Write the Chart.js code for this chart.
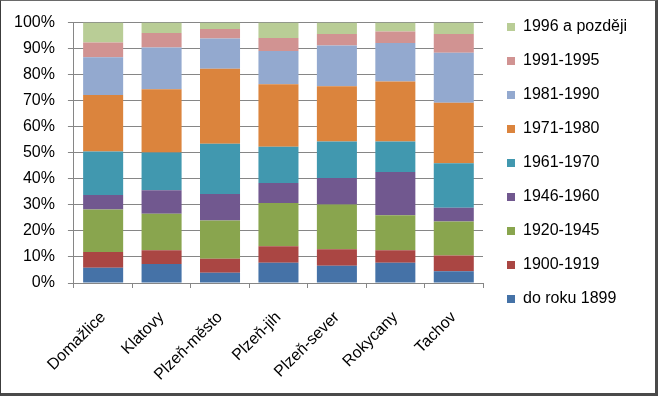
<!DOCTYPE html>
<html>
<head>
<meta charset="utf-8">
<script src="https://cdn.jsdelivr.net/npm/chart.js@4/dist/chart.umd.min.js"></script>
<style>
  html, body { margin: 0; padding: 0; background: #ffffff; }
  #wrap { position: absolute; left: 0; top: 0; width: 658px; height: 396px; }
  #frame { position: absolute; left: 0; top: 0; width: 658px; height: 396px; box-sizing: border-box;
           border-left: 1px solid #3c3c3c; border-top: 1px solid #6a6a6a;
           border-right: 3px solid #4a4a4a; border-bottom: 3px solid #4a4a4a; pointer-events: none; }
</style>
</head>
<body>
<div id="wrap"><canvas id="c" width="658" height="396"></canvas></div>
<div id="frame"></div>
<script>
const categories = ['Domažlice', 'Klatovy', 'Plzeň-město', 'Plzeň-jih', 'Plzeň-sever', 'Rokycany', 'Tachov'];
const seriesNames = ['do roku 1899', '1900-1919', '1920-1945', '1946-1960', '1961-1970', '1971-1980', '1981-1990', '1991-1995', '1996 a později'];
const doRoku1899 = [5.9, 7.3, 3.9, 7.8, 6.6, 7.8, 4.5];
const y1900_1919 = [6.0, 5.3, 5.4, 6.3, 6.4, 4.8, 6.1];
const y1920_1945 = [16.3, 14.0, 14.7, 16.6, 17.1, 13.4, 13.0];
const y1946_1960 = [5.6, 9.0, 10.2, 7.7, 10.2, 16.6, 5.3];
const y1961_1970 = [16.7, 14.5, 19.3, 13.9, 14.0, 11.7, 17.1];
const y1971_1980 = [21.7, 24.3, 28.8, 24.0, 21.3, 23.1, 23.2];
const y1981_1990 = [14.5, 16.0, 11.6, 12.8, 15.6, 14.8, 19.2];
const y1991_1995 = [5.7, 5.6, 3.6, 5.0, 4.4, 4.4, 7.2];
const y1996later = [7.6, 4.0, 2.5, 5.9, 4.4, 3.4, 4.4];
const yTicks = [0, 10, 20, 30, 40, 50, 60, 70, 80, 90, 100];

const seriesValues = [doRoku1899, y1900_1919, y1920_1945, y1946_1960, y1961_1970, y1971_1980, y1981_1990, y1991_1995, y1996later];
const colors = ['#4572A7', '#AA4643', '#89A54E', '#71588F', '#4198AF', '#DB843D', '#93A9CF', '#D19392', '#B9CD96'];

const FONT = "'Liberation Sans', Arial, sans-serif";

const legendPlace = {
  id: 'legendPlace',
  beforeUpdate(chart) {
    const lg = chart.legend;
    if (lg && !lg._patched) {
      const f = lg.fit;
      lg.fit = function () { f.call(this); this.width = 175; };
      lg._patched = true;
    }
  },
  afterLayout(chart) {
    const lg = chart.legend;
    lg.left = 489; lg.right = 658; lg.top = 1; lg.bottom = 396;
  }
};

new Chart(document.getElementById('c'), {
  type: 'bar',
  data: {
    labels: categories,
    datasets: seriesNames.map((n, i) => ({
      label: n,
      data: seriesValues[i],
      backgroundColor: colors[i],
      borderWidth: 0,
      categoryPercentage: 0.685,
      barPercentage: 1.0
    }))
  },
  options: {
    responsive: false,
    animation: false,
    layout: { padding: { left: 1, top: 19, right: 0, bottom: 0 } },
    plugins: {
      tooltip: { enabled: false },
      legend: {
        position: 'right',
        align: 'start',
        reverse: true,
        labels: {
          boxWidth: 8, boxHeight: 8, padding: 18,
          color: '#000000',
          font: { family: FONT, size: 16 }
        }
      }
    },
    scales: {
      x: {
        stacked: true,
        afterFit(scale) { scale.paddingLeft = 0; scale.paddingRight = 0; scale.height = 113; },
        grid: { display: true, drawOnChartArea: false, offset: true, color: '#868686', tickLength: 5 },
        border: { color: '#868686' },
        ticks: { color: '#000000', font: { family: FONT, size: 16 }, minRotation: 45, maxRotation: 45, padding: 20, labelOffset: 0 }
      },
      y: {
        stacked: true,
        min: 0, max: 100,
        afterBuildTicks(scale) { scale.ticks = yTicks.map(v => ({ value: v })); },
        grid: { color: '#868686', tickLength: 6 },
        border: { color: '#868686' },
        ticks: { color: '#000000', font: { family: FONT, size: 16 }, padding: 13, callback: v => v + '%' }
      }
    }
  },
  plugins: [legendPlace]
});
</script>
</body>
</html>
